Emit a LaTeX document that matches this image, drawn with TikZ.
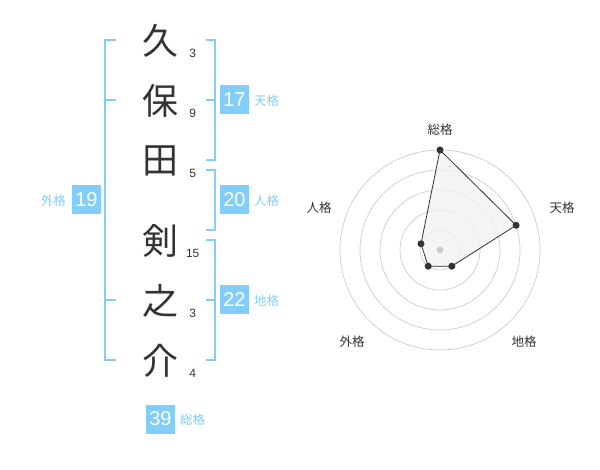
\documentclass[tikz,border=0pt]{standalone}
\usepackage{fontspec}
\setmainfont{Liberation Sans}
\newfontfamily\jp{Noto Sans CJK JP}
\usetikzlibrary{calc}
\definecolor{kblue}{RGB}{130,205,250}
\definecolor{kdark}{RGB}{51,51,51}
\definecolor{kgrid}{RGB}{204,204,204}
\definecolor{kfill}{RGB}{242,242,242}
\begin{document}
\begin{tikzpicture}[x=1pt,y=-1pt,
  kanji/.style={inner sep=0pt,text=kdark,font=\jp\fontsize{36}{36}\selectfont},
  strokenum/.style={inner sep=0pt,text=kdark,font=\fontsize{12}{12}\selectfont},
  kbox/.style={fill=kblue,text=white,minimum width=29pt,minimum height=29pt,inner sep=0pt,font=\fontsize{20}{20}\selectfont},
  klabel/.style={inner sep=0pt,text=kblue,font=\jp\fontsize{12.5}{12.5}\selectfont},
  rlabel/.style={inner sep=0pt,text=kdark,font=\jp\fontsize{12.5}{12.5}\selectfont},
  brk/.style={draw=kblue,line width=2pt},
  grid/.style={draw=kgrid,line width=0.7pt},
  rdot/.style={circle,fill=kdark,inner sep=0pt,minimum size=7pt}]
\useasboundingbox (0,0) rectangle (600,470);
% name characters
\node[kanji] (k1) at (160,41) {久};
\node[kanji] (k2) at (160,101) {保};
\node[kanji] (k3) at (160,161) {田};
\node[kanji] (k4) at (160,241) {剣};
\node[kanji] (k5) at (160,301) {之};
\node[kanji] (k6) at (160,361) {介};
\node[strokenum] (n1) at (192.7,53) {3};
\node[strokenum] (n2) at (192.7,113) {9};
\node[strokenum] (n3) at (192.7,173) {5};
\node[strokenum] (n4) at (192.7,253) {15};
\node[strokenum] (n5) at (192.7,313) {3};
\node[strokenum] (n6) at (192.7,373) {4};
% brackets
\draw[brk] (116,40) -- (105,40) -- (105,360) -- (116,360);
\draw[brk] (105,100) -- (116,100);
\draw[brk] (105,300) -- (116,300);
\draw[brk] (206,40) -- (215,40) -- (215,160) -- (206,160);
\draw[brk] (206,100) -- (215,100);
\draw[brk] (206,170) -- (215,170) -- (215,230) -- (206,230);
\draw[brk] (206,240) -- (215,240) -- (215,360) -- (206,360);
\draw[brk] (206,300) -- (215,300);
% boxes
\node[kbox] (b17) at (234.5,100) {17};
\node[klabel,anchor=west] (l17) at (254,100.5) {天格};
\node[kbox] (b20) at (234.5,200) {20};
\node[klabel,anchor=west] (l20) at (254,200.5) {人格};
\node[kbox] (b22) at (234.5,300) {22};
\node[klabel,anchor=west] (l22) at (254,300.5) {地格};
\node[kbox] (b19) at (86.5,200) {19};
\node[klabel,anchor=east] (l19) at (66,200.5) {外格};
\node[kbox] (b39) at (160.5,419) {39};
\node[klabel,anchor=west] (l39) at (180,419.5) {総格};
% radar
\coordinate (c) at (440,250);
\foreach \r in {20,40,60,80,100} \draw[grid] (c) circle (\r pt);
\coordinate (p1) at (440,150);
\coordinate (p2) at (516.1,225.3);
\coordinate (p3) at (451.8,266.2);
\coordinate (p4) at (428.2,266.2);
\coordinate (p5) at (421,243.8);
\draw[fill=kfill,fill opacity=0.8,draw=kdark,line width=0.8pt] (p1) -- (p2) -- (p3) -- (p4) -- (p5) -- cycle;
\node[circle,fill=kgrid,inner sep=0pt,minimum size=7pt] (c0) at (c) {};
\foreach \p in {p1,p2,p3,p4,p5} \node[rdot] (d\p) at (\p) {};
\node[rlabel] (r1) at (440,130) {総格};
\node[rlabel] (r2) at (562,208) {天格};
\node[rlabel] (r3) at (524,342) {地格};
\node[rlabel] (r4) at (352,342) {外格};
\node[rlabel] (r5) at (319,208) {人格};
\end{tikzpicture}
\end{document}
